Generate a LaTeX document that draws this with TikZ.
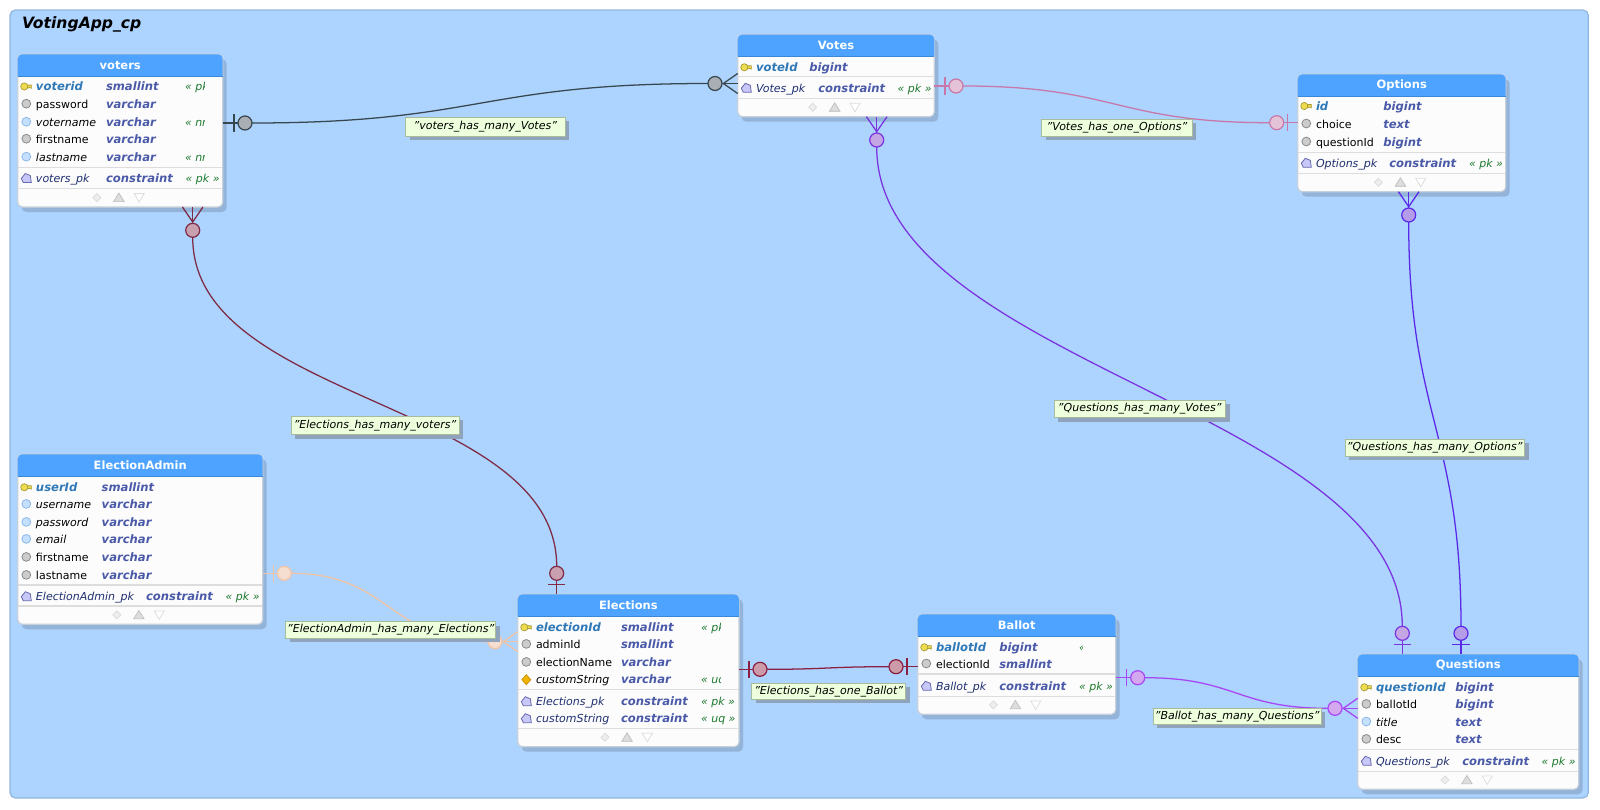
\documentclass[tikz,border=0pt]{standalone}
\usepackage{fontspec}
\setmainfont{DejaVu Sans}
\definecolor{panel}{HTML}{ADD3FF}
\definecolor{panelb}{HTML}{8FB8E0}
\definecolor{shad}{HTML}{93B3D8}
\definecolor{hdr}{HTML}{4DA3FF}
\definecolor{hdrb}{HTML}{3C88D8}
\definecolor{tbody}{HTML}{FCFCFC}
\definecolor{tedge}{HTML}{C8D0DA}
\definecolor{sepc}{HTML}{DDDDDD}
\definecolor{cKey}{HTML}{2F78B8}
\definecolor{cCon}{HTML}{1F2F70}
\definecolor{cType}{HTML}{4A5AA8}
\definecolor{cFlag}{HTML}{1F7A30}
\definecolor{lblf}{HTML}{EDFFDC}
\definecolor{lbld}{HTML}{A8BC9C}
\definecolor{lbls}{HTML}{8FA3BC}
\definecolor{keyf}{HTML}{EEDC50}
\definecolor{keyd}{HTML}{A89A30}
\definecolor{grayf}{HTML}{CCCCCC}
\definecolor{grayd}{HTML}{8A8A8A}
\definecolor{bluef}{HTML}{C5E0FF}
\definecolor{blued}{HTML}{8AB8E8}
\definecolor{diamf}{HTML}{F0B400}
\definecolor{diamd}{HTML}{C89000}
\definecolor{pentf}{HTML}{C8C8F8}
\definecolor{pentd}{HTML}{6868B0}
\definecolor{lA}{HTML}{37474F}\definecolor{fA}{HTML}{A9AEB4}
\definecolor{lB}{HTML}{C878A8}\definecolor{fB}{HTML}{E4C3D8}
\definecolor{lC}{HTML}{7B33E0}\definecolor{fC}{HTML}{C4A6E4}
\definecolor{lD}{HTML}{5A28E8}\definecolor{fD}{HTML}{B49CE8}
\definecolor{lE}{HTML}{7F2B45}\definecolor{fE}{HTML}{C9A0B0}
\definecolor{lF}{HTML}{F0C4A4}\definecolor{fF}{HTML}{F5DDD0}
\definecolor{lG}{HTML}{8B2040}\definecolor{fG}{HTML}{CC9AA8}
\definecolor{lH}{HTML}{A845F5}\definecolor{fH}{HTML}{D4A8EE}
\tikzset{
  tablebox/.style={draw=tedge,fill=tbody,line width=0.9pt,rounded corners=3.5pt,inner sep=0pt,outer sep=0pt,anchor=north west},
  txt/.style={inner sep=0pt,outer sep=0pt,anchor=base west,font=\fontsize{8.25}{10}\selectfont},
  ttl/.style={inner sep=0pt,outer sep=0pt,text=white,font=\fontsize{8.6}{10}\selectfont\bfseries},
  erdot/.style={circle,minimum size=10.5pt,inner sep=0pt,outer sep=0pt,line width=0.9pt},
  conn/.style={line width=0.95pt},
  lblbox/.style={draw=lbld,fill=lblf,line width=0.75pt,inner sep=0pt,outer sep=0pt,font=\fontsize{8.25}{10}\selectfont\itshape},
}
\newcount\nid
\newcommand{\bump}{\global\advance\nid by 1\relax}
\newcommand{\tbl}[7]{%
  \def\xa{#2}\def\ya{#3}\def\xb{#4}\def\yb{#5}\def\hb{#6}%
  \pgfmathsetmacro\wpt{(#4-#2)*0.75}\pgfmathsetmacro\hpt{(#5-#3)*0.75}%
  \pgfmathsetmacro\cx{(#2+#4)/2}\pgfmathsetmacro\cy{(#3+#6)/2}%
  \pgfmathsetmacro\ix{#2+8.6}\pgfmathsetmacro\nx{#2+18.3}%
  \fill[shad,rounded corners=3.5pt] (#2+4,#3+5) rectangle (#4+4,#5+5);
  \node[tablebox,minimum width=\wpt pt,minimum height=\hpt pt] (#1) at (#2,#3) {};
  \fill[hdr] (#2,#6) {[rounded corners=3.5pt] -- (#2,#3) -- (#4,#3)} -- (#4,#6) -- cycle;
  \draw[hdrb,line width=0.75pt] (#2,#6) -- (#4,#6);
  \node[ttl] (#1t) at (\cx,\cy) {#7};
  \pgfmathsetmacro\fy{#5-9.4}%
  \filldraw[fill=sepc!50!white,draw=sepc,line width=0.6pt] (\cx-23.3,\fy-4) -- (\cx-19.3,\fy) -- (\cx-23.3,\fy+4) -- (\cx-27.3,\fy) -- cycle;
  \filldraw[fill=sepc,draw=sepc!85!black,line width=0.5pt] (\cx-1.3,\fy-4.5) -- (\cx+4,\fy+4) -- (\cx-6.6,\fy+4) -- cycle;
  \filldraw[fill=white,draw=sepc,line width=0.6pt] (\cx+19,\fy+4.5) -- (\cx+24,\fy-4) -- (\cx+14,\fy-4) -- cycle;
}
\newcommand{\sepl}[1]{\draw[sepc,line width=1.1pt] (\xa+0.5,#1) -- (\xb-0.5,#1);}
\newcommand{\ikey}[1]{%
  \filldraw[fill=keyf,draw=keyd,line width=0.5pt] (\ix-1,#1-1.5) -- (\ix+5,#1-1.5) -- (\ix+5,#1+1.8) -- (\ix+3,#1+1) -- (\ix+1,#1+1.8) -- (\ix-1,#1+1.5) -- cycle;
  \filldraw[fill=keyf,draw=keyd,line width=0.5pt] (\ix-2,#1) circle (3.6);}
\newcommand{\igray}[1]{\filldraw[fill=grayf,draw=grayd,line width=0.6pt] (\ix,#1-0.8) circle (4.4);}
\newcommand{\iblue}[1]{\filldraw[fill=bluef,draw=blued,line width=0.6pt] (\ix,#1-0.8) circle (4.4);}
\newcommand{\idiam}[1]{\filldraw[fill=diamf,draw=diamd,line width=0.5pt] (\ix,#1-5) -- (\ix+4.5,#1) -- (\ix,#1+5) -- (\ix-4.5,#1) -- cycle;}
\newcommand{\ipent}[1]{\filldraw[fill=pentf,draw=pentd,line width=0.6pt] (\ix-5,#1) -- (\ix-1,#1-5) -- (\ix+4,#1-3) -- (\ix+5,#1+4) -- (\ix-3,#1+4) -- cycle;}
% icon, font, y, name, type x, type
\newcommand{\fld}[6]{%
  #1{#3}%
  \bump
  \node[txt,name=n\the\nid] at (\nx,#3+4) {#2#4};
  \bump
  \node[txt,name=n\the\nid,text=cType,font=\fontsize{8.7}{10}\selectfont\bfseries\itshape] at (#5,#3+4) {#6};
}
\newcommand{\fKey}{\color{cKey}\fontsize{8.7}{10}\selectfont\bfseries\itshape}
\newcommand{\fPlain}{\color{black}}
\newcommand{\fNull}{\color{black}\itshape}
\newcommand{\fCon}{\color{cCon}\itshape}
\newcommand{\flg}[3]{\bump\node[txt,name=n\the\nid,text=cFlag,font=\fontsize{8.25}{10}\selectfont\itshape] at (#1,#2+4) {#3};}
% x, y, text, clip x
\newcommand{\cflg}[4]{\begin{scope}\clip (#1-2,#2-9) rectangle (#4,#2+9);\flg{#1}{#2}{#3}\end{scope}}
% crow foot, horizontal and vertical
\newcommand{\crowh}[3]{\draw[#1,conn] ([xshift=#3*22.7*0.75pt,yshift=7.5pt]#2.center) -- ([xshift=#3*8.3*0.75pt]#2.center) -- ([xshift=#3*22.7*0.75pt,yshift=-7.5pt]#2.center);
  \draw[#1,conn] (#2) -- ([xshift=#3*22.7*0.75pt]#2.center);}
\newcommand{\crowv}[3]{\draw[#1,conn] ([yshift=#3*23.3*0.75pt,xshift=7.7pt]#2.center) -- ([yshift=#3*8.3*0.75pt]#2.center) -- ([yshift=#3*23.3*0.75pt,xshift=-7.7pt]#2.center);
  \draw[#1,conn] (#2) -- ([yshift=#3*23.3*0.75pt]#2.center);}
\newcommand{\barh}[3]{\draw[#1,conn] ([xshift=#3*11*0.75pt,yshift=6.4pt]#2.center) -- ([xshift=#3*11*0.75pt,yshift=-6.4pt]#2.center);}
\newcommand{\barv}[3]{\draw[#1,conn] ([yshift=#3*11*0.75pt,xshift=6.4pt]#2.center) -- ([yshift=#3*11*0.75pt,xshift=-6.4pt]#2.center);}
\newcommand{\lbl}[6]{%
  \fill[lbls] (#2+4,#3+4) rectangle (#4+4,#5+4);
  \pgfmathsetmacro\wpt{(#4-#2)*0.75}\pgfmathsetmacro\hpt{(#5-#3)*0.75}%
  \node[lblbox,minimum width=\wpt pt,minimum height=\hpt pt] (#1) at ({(#2+#4)/2},{(#3+#5)/2}) {#6};
}
\begin{document}
\begin{tikzpicture}[x=0.75pt,y=-0.75pt]
\useasboundingbox (0,0) rectangle (1600,810);
\fill[white] (0,0) rectangle (1600,810);
\draw[panelb,fill=panel,line width=0.9pt,rounded corners=4pt] (10,10) rectangle (1588.3,798);
\node[inner sep=0pt,outer sep=0pt,anchor=base west,font=\fontsize{11.7}{14}\selectfont\bfseries\itshape] (title) at (22,28.5) {VotingApp\_cp};

% voters
\tbl{voters}{17.7}{54.3}{222.7}{207}{76}{voters}
\fld{\ikey}{\fKey}{86.5}{voterid}{106}{smallint}
\fld{\igray}{\fPlain}{104.5}{password}{106}{varchar}
\fld{\iblue}{\fNull}{122.5}{votername}{106}{varchar}
\fld{\igray}{\fPlain}{139.5}{firstname}{106}{varchar}
\fld{\iblue}{\fNull}{157.5}{lastname}{106}{varchar}
\sepl{167.5}
\fld{\ipent}{\fCon}{178.5}{voters\_pk}{106}{constraint}
\sepl{188.5}
\cflg{185}{86.5}{« pk »}{204.7}
\cflg{185}{122.5}{« nn »}{204.7}
\cflg{185}{157.5}{« nn »}{204.7}
\flg{185.7}{178.5}{« pk »}

% Votes
\tbl{votes}{737.7}{34.5}{934.3}{116.7}{56}{Votes}
\fld{\ikey}{\fKey}{67.3}{voteId}{809.3}{bigint}
\sepl{76.7}
\fld{\ipent}{\fCon}{88.3}{Votes\_pk}{818.3}{constraint}
\sepl{98.3}
\flg{897.7}{88.3}{« pk »}

% Options
\tbl{options}{1297.7}{74.3}{1505.7}{191.7}{96}{Options}
\fld{\ikey}{\fKey}{106}{id}{1383.3}{bigint}
\fld{\igray}{\fPlain}{124.3}{choice}{1383.3}{text}
\fld{\igray}{\fPlain}{142.3}{questionId}{1383.3}{bigint}
\sepl{152.3}
\fld{\ipent}{\fCon}{163.3}{Options\_pk}{1389.3}{constraint}
\sepl{173.3}
\flg{1469}{163.3}{« pk »}

% ElectionAdmin
\tbl{admin}{17.7}{454.3}{262.7}{624.3}{476}{ElectionAdmin}
\fld{\ikey}{\fKey}{487.3}{userId}{101.7}{smallint}
\fld{\iblue}{\fNull}{504.7}{username}{101.7}{varchar}
\fld{\iblue}{\fNull}{522.7}{password}{101.7}{varchar}
\fld{\iblue}{\fNull}{539.7}{email}{101.7}{varchar}
\fld{\igray}{\fPlain}{557.7}{firstname}{101.7}{varchar}
\fld{\igray}{\fPlain}{575.7}{lastname}{101.7}{varchar}
\sepl{585}
\fld{\ipent}{\fCon}{596.7}{ElectionAdmin\_pk}{146}{constraint}
\sepl{606}
\flg{225.7}{596.7}{« pk »}

% Elections
\tbl{elections}{517.7}{594.3}{739}{746.7}{616}{Elections}
\fld{\ikey}{\fKey}{627.3}{electionId}{621}{smallint}
\fld{\igray}{\fPlain}{644.7}{adminId}{621}{smallint}
\fld{\igray}{\fPlain}{662.7}{electionName}{621}{varchar}
\fld{\idiam}{\fNull}{679.7}{customString}{621}{varchar}
\sepl{689.3}
\fld{\ipent}{\fCon}{701.7}{Elections\_pk}{621}{constraint}
\fld{\ipent}{\fCon}{718.7}{customString}{621}{constraint}
\sepl{728.3}
\cflg{701}{627.3}{« pk »}{720}
\cflg{701}{679.7}{« uq »}{720}
\flg{701}{701.7}{« pk »}
\flg{701}{718.7}{« uq »}

% Ballot
\tbl{ballot}{917.7}{614.3}{1115.7}{714.3}{636}{Ballot}
\fld{\ikey}{\fKey}{647.3}{ballotId}{999.3}{bigint}
\fld{\igray}{\fPlain}{664.3}{electionId}{999.3}{smallint}
\sepl{674}
\fld{\ipent}{\fCon}{686.3}{Ballot\_pk}{999.3}{constraint}
\sepl{696.3}
\cflg{1079}{647.3}{« pk »}{1082}
\flg{1079}{686.3}{« pk »}

% Questions
\tbl{questions}{1357.7}{654.3}{1578.7}{789.3}{676}{Questions}
\fld{\ikey}{\fKey}{687.3}{questionId}{1455.3}{bigint}
\fld{\igray}{\fPlain}{704.7}{ballotId}{1455.3}{bigint}
\fld{\iblue}{\fNull}{722.3}{title}{1455.3}{text}
\fld{\igray}{\fPlain}{739.7}{desc}{1455.3}{text}
\sepl{749.3}
\fld{\ipent}{\fCon}{761.3}{Questions\_pk}{1462.3}{constraint}
\sepl{771.3}
\flg{1541.7}{761.3}{« pk »}

% connector ends
\node[erdot] (a1) at (245,123) {};
\node[erdot] (a2) at (715,83.5) {};
\node[erdot] (b1) at (956,86) {};
\node[erdot] (b2) at (1276.7,122.7) {};
\node[erdot] (c1) at (876.7,140) {};
\node[erdot] (c2) at (1402.3,633.3) {};
\node[erdot] (d1) at (1408.7,215) {};
\node[erdot] (d2) at (1461,633.3) {};
\node[erdot] (e1) at (192.7,230.3) {};
\node[erdot] (e2) at (556.7,573.3) {};
\node[erdot] (f1) at (284.3,573.3) {};
\node[erdot] (f2) at (495,641.7) {};
\node[erdot] (g1) at (760,669.3) {};
\node[erdot] (g2) at (896,666.7) {};
\node[erdot] (h1) at (1137.7,677.7) {};
\node[erdot] (h2) at (1335,708.3) {};

% voters - Votes
\draw[lA,conn] (voters.east |- a1) -- (a1);
\draw[lA,conn] (a1.east) .. controls (480,123) and (480,83.5) .. (a2.west);
\barh{lA}{a1}{-1}\crowh{lA}{a2}{1}
% Votes - Options
\draw[lB,conn] (votes.east |- b1) -- (b1);
\draw[lB,conn] (b1.east) .. controls (1116,86) and (1116,122.7) .. (b2.west);
\draw[lB,conn] (b2) -- (options.west |- b2);
\barh{lB}{b1}{-1}\barh{lB}{b2}{1}
% Votes - Questions
\draw[lC,conn] (c1.south) .. controls (876.7,363) and (1402.3,410) .. (c2.north);
\draw[lC,conn] (c2) -- (c2 |- questions.north);
\crowv{lC}{c1}{1}\barv{lC}{c2}{-1}
% Options - Questions
\draw[lD,conn] (d1.south) .. controls (1408.7,417) and (1461,431) .. (d2.north);
\draw[lD,conn] (d2) -- (d2 |- questions.north);
\crowv{lD}{d1}{1}\barv{lD}{d2}{-1}
% voters - Elections
\draw[lE,conn] (e1.south) .. controls (192.7,403) and (556.7,400) .. (e2.north);
\draw[lE,conn] (e2) -- (e2 |- elections.north);
\crowv{lE}{e1}{1}\barv{lE}{e2}{-1}
% ElectionAdmin - Elections
\draw[lF,conn] (admin.east |- f1) -- (f1);
\draw[lF,conn] (f1.east) .. controls (390,573.3) and (390,641.7) .. (f2.west);
\barh{lF}{f1}{-1}\crowh{lF}{f2}{1}
% Elections - Ballot
\draw[lG,conn] (elections.east |- g1) -- (g1);
\draw[lG,conn] (g1.east) .. controls (828,669.3) and (828,666.7) .. (g2.west);
\draw[lG,conn] (g2) -- (ballot.west |- g2);
\barh{lG}{g1}{-1}\barh{lG}{g2}{1}
% Ballot - Questions
\draw[lH,conn] (ballot.east |- h1) -- (h1);
\draw[lH,conn] (h1.east) .. controls (1236,677.7) and (1236,708.3) .. (h2.west);
\barh{lH}{h1}{-1}\crowh{lH}{h2}{1}
% discs above the connector ends
\foreach \n/\l/\f in {a1/lA/fA,a2/lA/fA,b1/lB/fB,b2/lB/fB,c1/lC/fC,c2/lC/fC,d1/lD/fD,d2/lD/fD,e1/lE/fE,e2/lE/fE,f1/lF/fF,f2/lF/fF,g1/lG/fG,g2/lG/fG,h1/lH/fH,h2/lH/fH}
  \filldraw[draw=\l,fill=\f,line width=0.9pt] (\n) circle (7);

% labels
\lbl{l1}{405.7}{117.3}{565}{136}{"voters\_has\_many\_Votes"}
\lbl{l2}{1041.7}{119}{1192.3}{136}{"Votes\_has\_one\_Options"}
\lbl{l3}{1054}{400}{1225.5}{417.5}{"Questions\_has\_many\_Votes"}
\lbl{l4}{1345}{439}{1524.5}{456}{"Questions\_has\_many\_Options"}
\lbl{l5}{291}{416}{459}{434.5}{"Elections\_has\_many\_voters"}
\lbl{l6}{285.7}{621.7}{495.7}{638.3}{"ElectionAdmin\_has\_many\_Elections"}
\lbl{l7}{751.7}{683.3}{905.7}{699.3}{"Elections\_has\_one\_Ballot"}
\lbl{l8}{1153.3}{708.3}{1321}{724.3}{"Ballot\_has\_many\_Questions"}
\end{tikzpicture}
\end{document}
